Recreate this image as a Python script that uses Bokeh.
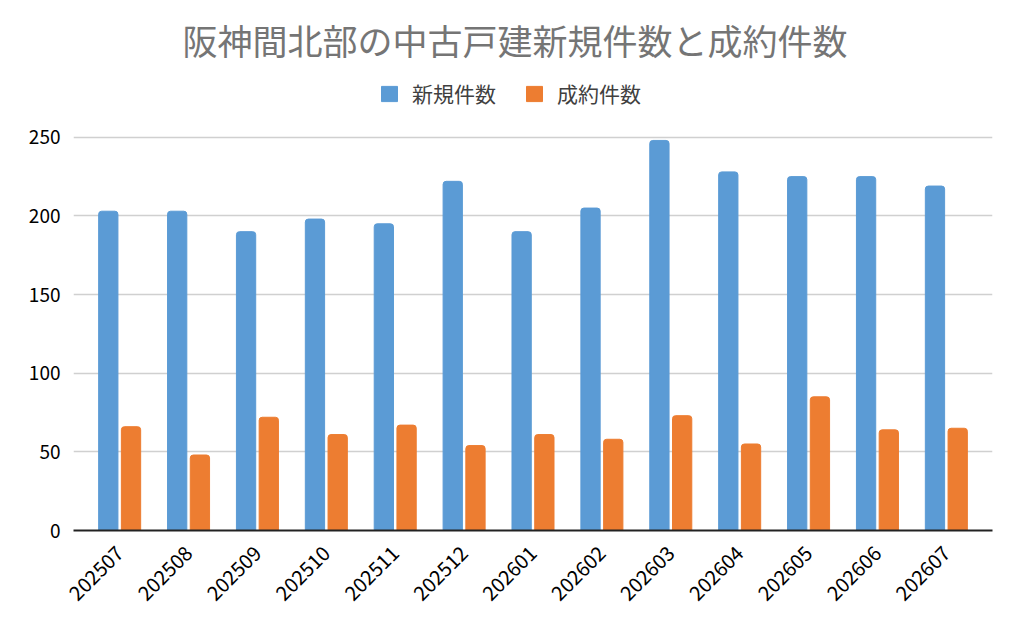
from bokeh.plotting import figure
from bokeh.models import FactorRange, Range1d, Legend, LegendItem, Title, FixedTicker, ColumnDataSource
from bokeh.transform import dodge
from bokeh.embed import file_html
from bokeh.resources import INLINE
import math

months = ["202507", "202508", "202509", "202510", "202511", "202512", "202601",
          "202602", "202603", "202604", "202605", "202606", "202607"]
new_listings = [203, 203, 190, 198, 195, 222, 190, 205, 248, 228, 225, 225, 219]
contracts = [66, 48, 72, 61, 67, 54, 61, 58, 73, 55, 85, 64, 65]
series_names = ["新規件数", "成約件数"]
title_text = "阪神間北部の中古戸建新規件数と成約件数"
y_ticks = [0, 50, 100, 150, 200, 250]

FONT = "Noto Sans CJK JP"
BLUE = "#5B9BD5"
ORANGE = "#ED7D31"

src = ColumnDataSource(dict(m=months, a=new_listings, b=contracts))

x_range = FactorRange(*months, range_padding=0.17, range_padding_units="absolute")
p = figure(width=1008, height=610, x_range=x_range, y_range=Range1d(0, 293.1),
           output_backend="svg", toolbar_location=None,
           min_border_left=73, min_border_right=16, min_border_top=69, min_border_bottom=79)
p.title = None

r1 = p.vbar(x=dodge("m", -0.165, range=p.x_range), top="a", width=0.28, source=src,
            fill_color=BLUE, line_color=BLUE, border_radius=(3, 3, 0, 0))
r2 = p.vbar(x=dodge("m", 0.165, range=p.x_range), top="b", width=0.28, source=src,
            fill_color=ORANGE, line_color=ORANGE, border_radius=(3, 3, 0, 0))

legend = Legend(items=[LegendItem(label=series_names[0], renderers=[r1]),
                       LegendItem(label=series_names[1], renderers=[r2])],
                orientation="horizontal", location=(306, 422),
                label_text_font=FONT, label_text_font_size="21px", label_text_color="#404040",
                glyph_width=20, glyph_height=19, label_standoff=13, spacing=28,
                border_line_color=None, background_fill_alpha=0, margin=0, padding=0)
p.add_layout(legend, "center")
p.add_layout(Title(text=title_text, align="left", offset=109, text_font=FONT,
                   text_font_size="35px", text_color="#757575", text_font_style="normal",
                   standoff=10), "above")

p.yaxis.ticker = FixedTicker(ticks=y_ticks)
p.yaxis.axis_line_color = None
p.yaxis.major_tick_line_color = None
p.yaxis.minor_tick_line_color = None
p.yaxis.major_label_text_font = FONT
p.yaxis.major_label_text_font_size = "19px"
p.yaxis.major_label_text_color = "#000000"
p.yaxis.major_label_standoff = 7

p.xaxis.axis_line_color = "#222222"
p.xaxis.axis_line_width = 2
p.xaxis.major_tick_line_color = None
p.xaxis.minor_tick_line_color = None
p.xaxis.major_label_orientation = math.pi / 4
p.xaxis.major_label_text_font = FONT
p.xaxis.major_label_text_font_size = "20px"
p.xaxis.major_label_text_color = "#000000"
p.xaxis.major_label_standoff = 13

p.xgrid.grid_line_color = None
p.ygrid.grid_line_color = "#d0d0d0"
p.ygrid.grid_line_width = 1.5
p.outline_line_color = None

open("out.html", "w").write(file_html(p, INLINE))
